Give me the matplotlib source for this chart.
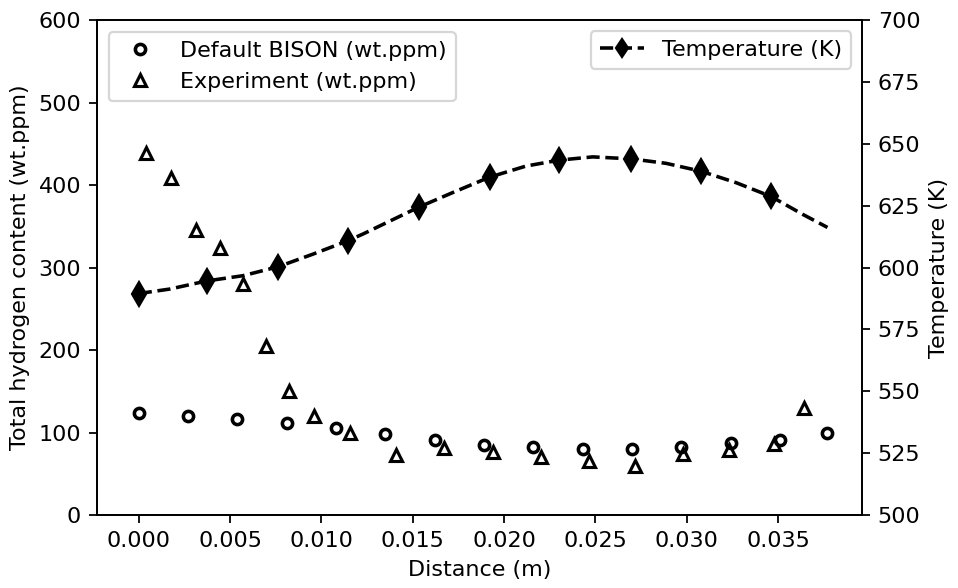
import matplotlib
matplotlib.use("Agg")
from matplotlib import pyplot as plt

# BISON prediction (circles)
bison_x = [0.0000, 0.0027, 0.0054, 0.0081, 0.0108, 0.0135, 0.0162, 0.0189,
           0.0216, 0.0243, 0.0270, 0.0297, 0.0324, 0.0351, 0.0377]
bison_h = [124, 120, 116, 111.5, 105, 98, 91, 85, 82, 80, 80, 82, 87, 91, 99]

# experiment (triangles)
exp_x = [0.00042, 0.00176, 0.00311, 0.00443, 0.0057, 0.00698, 0.00825, 0.00957,
         0.01158, 0.01409, 0.01673, 0.01938, 0.02202, 0.02463, 0.02718, 0.02977,
         0.03233, 0.03479, 0.03643]
exp_h = [439, 409, 345, 324, 280, 205, 150, 120, 100, 73, 81, 76, 70, 65, 60, 74,
         79, 86, 130]

# temperature profile
temp_x = [0.0000, 0.00169, 0.00373, 0.0057, 0.00762, 0.00953, 0.01144, 0.01226,
          0.01533, 0.01719, 0.0192, 0.0212, 0.02302, 0.02485, 0.02695, 0.02886,
          0.03078, 0.03269, 0.03461, 0.03634, 0.0377]
temp_T = [589.5, 591.3, 594.6, 596.7, 600.3, 605.4, 610.8, 613.5,
          624.4, 630.3, 636.5, 641.0, 643.4, 644.7, 643.9, 642.1,
          638.9, 634.3, 628.7, 621.5, 616.2]
temp_marks = [0, 2, 4, 6, 8, 10, 12, 14, 16, 18]

# dpi 160 -> fonts a bit bigger than default, like the reference
fig = plt.figure(figsize=(958 / 160, 588 / 160), dpi=160)
ax = fig.add_axes([0.101, 0.124, 0.799, 0.842])

ax.plot(bison_x, bison_h, 'o', ms=4.6, mfc='none', mec='k', mew=1.6,
        label='Default BISON (wt.ppm)')
ax.plot(exp_x, exp_h, '^', ms=5.6, mfc='none', mec='k', mew=1.4,
        label='Experiment (wt.ppm)')
ax.set_ylim(0, 600)
ax.set_xlabel('Distance (m)')
ax.set_ylabel('Total hydrogen content (wt.ppm)')
ax.set_xticks([0.000, 0.005, 0.010, 0.015, 0.020, 0.025, 0.030, 0.035])
ax.set_xticklabels(['0.000', '0.005', '0.010', '0.015', '0.020', '0.025', '0.030', '0.035'])
ax.legend(loc='upper left', borderaxespad=0.55)

ax2 = ax.twinx()
ax2.plot(temp_x, temp_T, '--', color='k', lw=1.6, marker='d', ms=7.5,
         markevery=temp_marks, label='Temperature (K)')
ax2.set_ylim(500, 700)
ax2.set_yticks(range(500, 701, 25))
ax2.set_ylabel('Temperature (K)')
ax2.legend(loc='upper right', markerscale=0.8)

ax.set_xlim(-0.0023, 0.0396)

plt.savefig('out.png', dpi=160)
